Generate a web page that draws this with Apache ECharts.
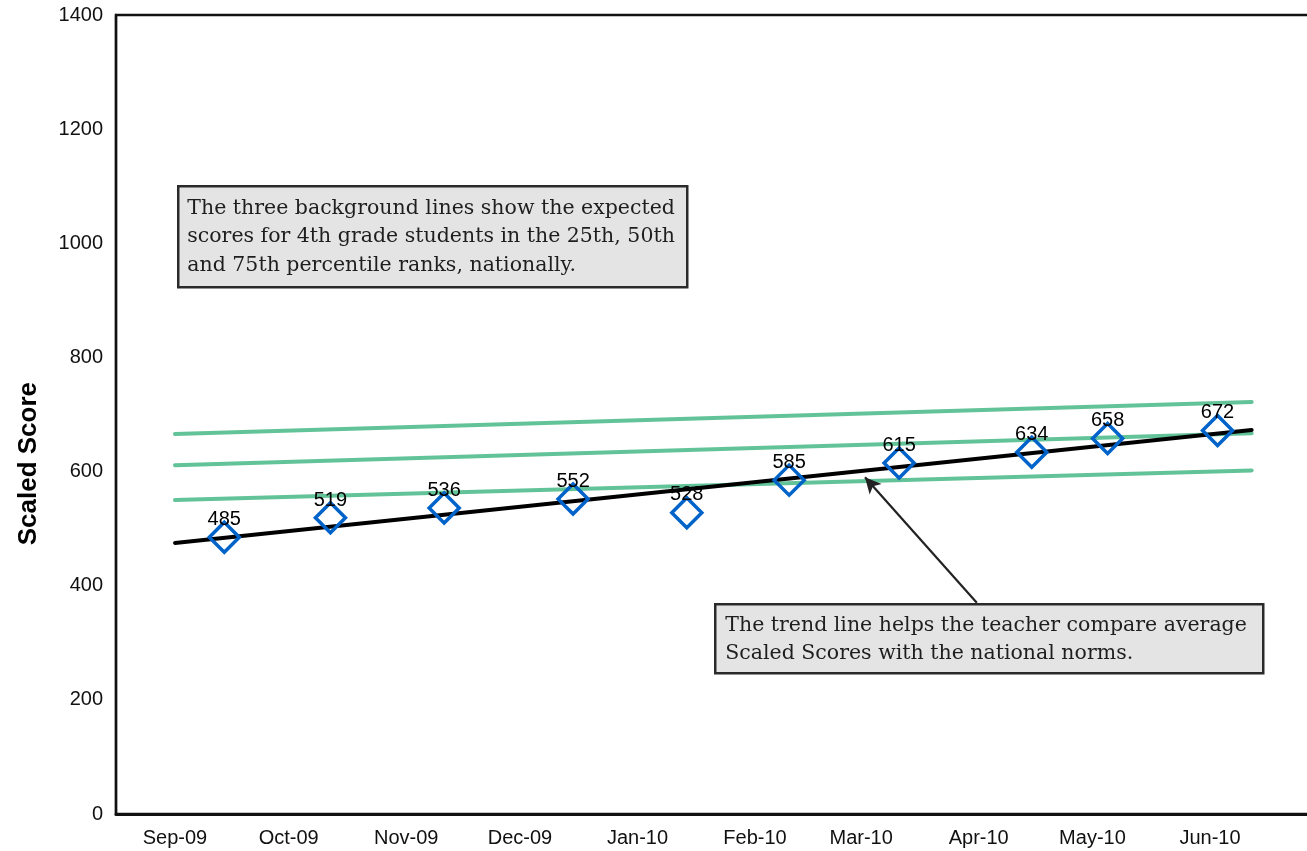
<!DOCTYPE html>
<html>
<head>
<meta charset="utf-8">
<script src="https://cdn.jsdelivr.net/npm/echarts@6/dist/echarts.min.js"></script>
<style>
  html, body { margin: 0; padding: 0; background: #fff; }
  #chart { width: 1307px; height: 851px; }
</style>
</head>
<body>
<div id="chart"></div>
<script>
// ---- data ----
const scoreDates = ['2009-09-14', '2009-10-12', '2009-11-11', '2009-12-15', '2010-01-14',
                    '2010-02-10', '2010-03-11', '2010-04-15', '2010-05-05', '2010-06-03'];
const scores = [485, 519, 536, 552, 528, 585, 615, 634, 658, 672];
const normDates = ['2009-09-01', '2010-06-12'];
const norm25 = [550, 602];
const norm50 = [611, 667];
const norm75 = [666, 722];
const trendValues = [475, 673];
const tickLabels = ['Sep-09', 'Oct-09', 'Nov-09', 'Dec-09', 'Jan-10', 'Feb-10',
                    'Mar-10', 'Apr-10', 'May-10', 'Jun-10'];
const yTicks = [0, 200, 400, 600, 800, 1000, 1200, 1400];
const arrowFrom = ['2010-03-31T12:00:00', 370];
const arrowTo = ['2010-03-02T00:00:00', 590];
const noteTop = 'The three background lines show the expected\nscores for 4th grade students in the 25th, 50th\nand 75th percentile ranks, nationally.';
const noteBottom = 'The trend line helps the teacher compare average\nScaled Scores with the national norms.';

const SANS = '"Liberation Sans", Arial, sans-serif';
const SERIF = '"DejaVu Serif", Georgia, serif';
const GREEN = '#63c398';

const chart = echarts.init(document.getElementById('chart'), null, { renderer: 'canvas' });

const pair = (dates, vals) => dates.map((d, i) => [d, vals[i]]);

function normSeries(name, vals) {
  return {
    name, type: 'line', data: pair(normDates, vals), symbol: 'none', z: 2,
    lineStyle: { color: GREEN, width: 4, cap: 'round' }, silent: true
  };
}

chart.setOption({
  animation: false,
  grid: {
    left: 116, top: 15, width: 1207.7, height: 799,
    show: true, borderColor: '#111', borderWidth: 2.4, backgroundColor: 'transparent',
    outerBoundsMode: 'none', containLabel: false
  },
  xAxis: {
    type: 'time',
    min: '2009-08-16T10:30:00',
    max: '2010-07-01T00:00:00',
    minInterval: 28 * 86400000,
    maxInterval: 31 * 86400000,
    axisLine: { show: true, lineStyle: { color: '#111', width: 3 } },
    axisTick: { show: false },
    splitLine: { show: false },
    axisLabel: {
      show: true, margin: 14, fontSize: 20, fontFamily: SANS, color: '#111',
      showMinLabel: false, showMaxLabel: false, hideOverlap: false,
      formatter: function (val) {
        const d = new Date(val);
        const idx = (d.getFullYear() - 2009) * 12 + d.getMonth() - 8;
        return tickLabels[idx] || '';
      }
    }
  },
  yAxis: {
    type: 'value', min: yTicks[0], max: yTicks[yTicks.length - 1], interval: 200,
    axisLine: { show: true, lineStyle: { color: '#111', width: 2.4 } },
    axisTick: { show: false },
    splitLine: { show: false },
    axisLabel: { margin: 13, fontSize: 20, fontFamily: SANS, color: '#111',
                 formatter: v => String(v) }
  },
  series: [
    normSeries('75th', norm75),
    normSeries('50th', norm50),
    normSeries('25th', norm25),
    {
      name: 'Trend', type: 'line', data: pair(normDates, trendValues), symbol: 'none', z: 3,
      lineStyle: { color: '#000', width: 4, cap: 'round' }, silent: true,
      markLine: {
        silent: true, symbol: ['none', 'arrow'], symbolSize: [12, 16],
        label: { show: false },
        lineStyle: { color: '#222', width: 2.2, type: 'solid' },
        data: [[{ coord: arrowFrom }, { coord: arrowTo }]]
      }
    },
    {
      name: 'Scaled Score', type: 'scatter', data: pair(scoreDates, scores), z: 5,
      symbol: 'diamond', symbolSize: 30,
      itemStyle: { color: 'rgba(255,255,255,0)', borderColor: '#0063c9', borderWidth: 3.5, opacity: 1 },
      label: {
        show: true, position: 'top', distance: -9, fontSize: 20, fontFamily: SANS, color: '#000',
        formatter: p => String(p.value[1])
      }
    }
  ],
  graphic: [
    {
      type: 'text', left: 16, top: 382, rotation: Math.PI / 2,
      style: { text: 'Scaled Score', font: 'bold 26px ' + SANS, fill: '#000' },
      z: 10
    },
    {
      type: 'group', left: 177, top: 185, z: 10,
      children: [
        { type: 'rect', shape: { x: 0, y: 0, width: 509, height: 101 },
          style: { fill: '#e4e4e4', stroke: '#2a2a2a', lineWidth: 2.5 } },
        { type: 'text', x: 9, y: 50.5,
          style: { text: noteTop, font: '20.5px ' + SERIF, fill: '#1e1e1e', lineHeight: 28.5, verticalAlign: 'middle' } }
      ]
    },
    {
      type: 'group', left: 714, top: 603, z: 10,
      children: [
        { type: 'rect', shape: { x: 0, y: 0, width: 548, height: 69 },
          style: { fill: '#e4e4e4', stroke: '#2a2a2a', lineWidth: 2.5 } },
        { type: 'text', x: 10, y: 35.5,
          style: { text: noteBottom, font: '20.5px ' + SERIF, fill: '#1e1e1e', lineHeight: 28, verticalAlign: 'middle' } }
      ]
    }
  ]
});
</script>
</body>
</html>
